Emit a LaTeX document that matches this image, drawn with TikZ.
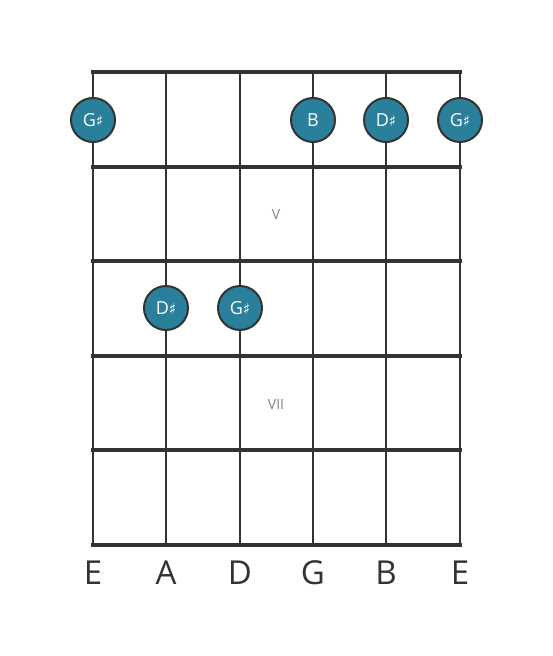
\documentclass[tikz,border=0pt]{standalone}
\usepackage{fontspec}
\setmainfont{Open Sans}
\newfontfamily\symfont{DejaVu Sans}
\usetikzlibrary{positioning}

\definecolor{boardline}{HTML}{333333}
\definecolor{notefill}{HTML}{2A7F9A}
\definecolor{fretlabel}{HTML}{808080}

\tikzset{
  note/.style={circle, draw=boardline, line width=2pt, fill=notefill, minimum size=44pt, inner sep=0pt, text=white, font=\fontsize{18}{18}\selectfont},
  fretwire/.style={boardline, line width=4.5pt},
  stringline/.style={boardline, line width=2.5pt},
  stringname/.style={text=boardline, font=\fontsize{33}{33}\selectfont},
  fretnum/.style={text=fretlabel, font=\fontsize{14}{14}\selectfont}
}
\newcommand{\shp}{{\symfont\fontsize{15}{15}\selectfont ♯}}

\begin{document}
\begin{tikzpicture}[x=1pt, y=-1pt]
  \useasboundingbox (0,0) rectangle (553,656);
  % strings
  \foreach \sx [count=\i] in {93,166,240,313,386,460} {
    \coordinate (top\i) at (\sx,72);
    \coordinate (bot\i) at (\sx,545);
    \draw[stringline] (top\i) -- (bot\i);
  }
  % frets
  \foreach \fy [count=\j] in {72,167,261,356,450,545} {
    \coordinate (fl\j) at (91,\fy);
    \coordinate (fr\j) at (462,\fy);
    \draw[fretwire] (fl\j) -- (fr\j);
  }
  % fret numbers
  \node[fretnum] (fretV) at (276,214) {V};
  \node[fretnum] (fretVII) at (276,404) {VII};
  % notes
  \node[note] (n1) at (93,120) {G\shp};
  \node[note] (n2) at (313,120) {B};
  \node[note] (n3) at (386,120) {D\shp};
  \node[note] (n4) at (460,120) {G\shp};
  \node[note] (n5) at (166,308) {D\shp};
  \node[note] (n6) at (240,308) {G\shp};
  % string names
  \foreach \sx/\nm [count=\i] in {93/E,166/A,240/D,313/G,386/B,460/E}
    \node[stringname] (name\i) at (\sx,573) {\nm};
\end{tikzpicture}
\end{document}
